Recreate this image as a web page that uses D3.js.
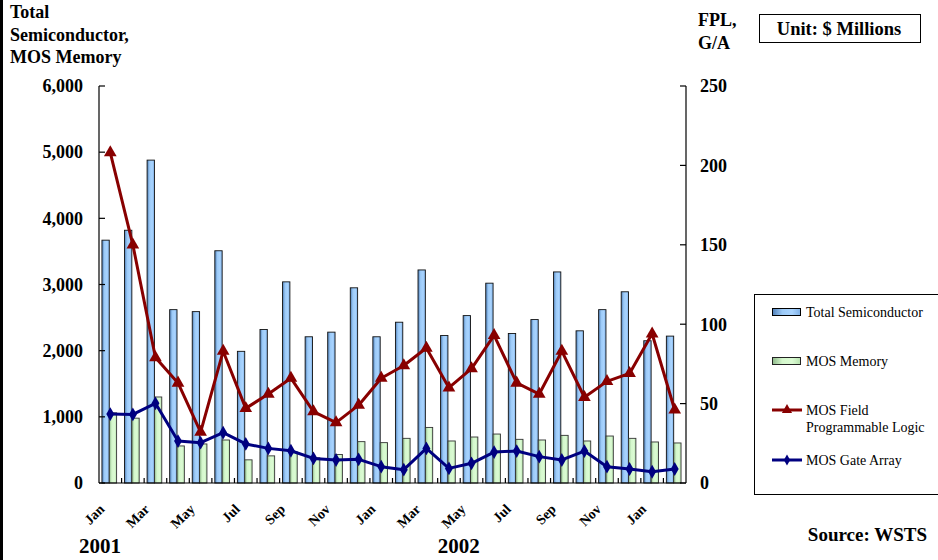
<!DOCTYPE html>
<html>
<head>
<meta charset="utf-8">
<script src="https://cdn.jsdelivr.net/npm/d3@7"></script>
<style>
  body { margin: 0; background: #fff; }
  svg { display: block; font-family: "Liberation Serif", "Times New Roman", serif; }
  .bold { font-weight: bold; }
</style>
</head>
<body>
<svg id="chart" width="938" height="560"></svg>
<script>
// ---> Data (Jan 2001 .. Feb 2003, $ millions)
const months = [
  "Jan 2001", "Feb 2001", "Mar 2001", "Apr 2001", "May 2001", "Jun 2001",
  "Jul 2001", "Aug 2001", "Sep 2001", "Oct 2001", "Nov 2001", "Dec 2001",
  "Jan 2002", "Feb 2002", "Mar 2002", "Apr 2002", "May 2002", "Jun 2002",
  "Jul 2002", "Aug 2002", "Sep 2002", "Oct 2002", "Nov 2002", "Dec 2002",
  "Jan 2003", "Feb 2003"
];
const totalSemi = [3670, 3820, 4880, 2620, 2590, 3510, 1990, 2320, 3040, 2210, 2280, 2950,
  2210, 2430, 3220, 2230, 2530, 3020, 2260, 2470, 3190, 2300, 2620, 2890, 2150, 2220];
const mosMemory = [1060, 980, 1300, 560, 590, 650, 350, 410, 470, 380, 430, 625,
  610, 675, 840, 635, 695, 740, 660, 650, 720, 635, 710, 675, 620, 605];
const mosFPL = [208, 150, 79, 63, 32, 83, 47, 56, 66, 45, 38, 49,
  66, 74, 85, 60, 72, 93, 63, 56, 83, 54, 64, 69, 94, 46];
const mosGateArray = [43.4, 43.2, 50.2, 26.4, 25.4, 31.7, 24.6, 21.8, 20.3, 15.5, 14.5, 14.9,
  10.3, 8.4, 21.8, 9.2, 12.4, 19.5, 20.1, 16.6, 14.5, 20.1, 10.3, 8.8, 7.1, 8.8];
const monthTicks = ["Jan", "Mar", "May", "Jul", "Sep", "Nov", "Jan", "Mar", "May", "Jul", "Sep", "Nov", "Jan"];
const leftTicks = [0, 1000, 2000, 3000, 4000, 5000, 6000];
const rightTicks = [0, 50, 100, 150, 200, 250];
const years = [{label: "2001", month: "Jan 2001"}, {label: "2002", month: "Apr 2002"}];
const legendItems = [
  {name: ["Total Semiconductor"], kind: "bar", fill: "url(#gradBlue)", stroke: "#000"},
  {name: ["MOS Memory"], kind: "bar", fill: "url(#gradGreen)", stroke: "#222"},
  {name: ["MOS Field", "Programmable Logic"], kind: "line", color: "#880000", marker: "triangle"},
  {name: ["MOS Gate Array"], kind: "line", color: "#000080", marker: "diamond"}
];

// ---> Layout
const svg = d3.select("#chart");
const plot = {left: 99, right: 686, top: 86, bottom: 483};

const x = d3.scaleBand().domain(months).range([plot.left, plot.right]).paddingInner(0).paddingOuter(0);
const bw = x.bandwidth();
const xSeries = d3.scaleBand().domain(["total", "mem"]).range([bw * 0.13, bw * 0.78]);
const yLeft = d3.scaleLinear().domain([0, 6000]).range([plot.bottom, plot.top]);
const yRight = d3.scaleLinear().domain([0, 250]).range([plot.bottom, plot.top]);
const cx = (m) => x(m) + bw / 2;

// gradients
const defs = svg.append("defs");
function gradient(id, stops) {
  const g = defs.append("linearGradient").attr("id", id).attr("x1", "0").attr("x2", "1").attr("y1", "0").attr("y2", "0");
  stops.forEach(s => g.append("stop").attr("offset", s[0]).attr("stop-color", s[1]));
}
gradient("gradBlue", [["0", "#4f7fb8"], ["0.35", "#9ccaf7"], ["0.7", "#a9d4ff"], ["1", "#7fb0e6"]]);
gradient("gradGreen", [["0", "#8fb98a"], ["0.35", "#d4f7cc"], ["0.7", "#dbfbd3"], ["1", "#b8e3b0"]]);

// left border stripe
svg.append("rect").attr("x", 0).attr("y", 0).attr("width", 3).attr("height", 560).attr("fill", "#000");

// bars
svg.append("g").selectAll("rect")
  .data(months)
  .enter()
  .append("rect")
  .attr("x", (d) => x(d) + xSeries("total"))
  .attr("y", (d, i) => yLeft(totalSemi[i]))
  .attr("width", xSeries.bandwidth())
  .attr("height", (d, i) => plot.bottom - yLeft(totalSemi[i]))
  .attr("fill", "url(#gradBlue)")
  .attr("stroke", "#111")
  .attr("stroke-width", 0.9);

svg.append("g").selectAll("rect")
  .data(months)
  .enter()
  .append("rect")
  .attr("x", (d) => x(d) + xSeries("mem"))
  .attr("y", (d, i) => yLeft(mosMemory[i]))
  .attr("width", xSeries.bandwidth())
  .attr("height", (d, i) => plot.bottom - yLeft(mosMemory[i]))
  .attr("fill", "url(#gradGreen)")
  .attr("stroke", "#333")
  .attr("stroke-width", 0.9);

// axes lines + ticks
const axes = svg.append("g").attr("stroke", "#000").attr("stroke-width", 1.2);
axes.append("line").attr("x1", plot.left).attr("x2", plot.left).attr("y1", plot.top).attr("y2", plot.bottom);
axes.append("line").attr("x1", plot.right).attr("x2", plot.right).attr("y1", plot.top).attr("y2", plot.bottom);
axes.append("line").attr("x1", plot.left).attr("x2", plot.right).attr("y1", plot.bottom).attr("y2", plot.bottom);
axes.selectAll(".lt").data(leftTicks).enter().append("line")
  .attr("x1", plot.left).attr("x2", plot.left + 6)
  .attr("y1", (d) => yLeft(d)).attr("y2", (d) => yLeft(d));
axes.selectAll(".rt").data(rightTicks).enter().append("line")
  .attr("x1", plot.right - 6).attr("x2", plot.right)
  .attr("y1", (d) => yRight(d)).attr("y2", (d) => yRight(d));
axes.selectAll(".bt").data(months.slice(1)).enter().append("line")
  .attr("x1", (d) => x(d)).attr("x2", (d) => x(d))
  .attr("y1", plot.bottom - 5).attr("y2", plot.bottom);

// tick labels
svg.append("g").attr("class", "bold").attr("font-size", 18).attr("text-anchor", "end")
  .selectAll("text").data(leftTicks).enter().append("text")
  .attr("x", 83).attr("y", (d) => yLeft(d)).attr("dy", "0.35em")
  .text((d) => d3.format(",")(d));
svg.append("g").attr("class", "bold").attr("font-size", 18).attr("text-anchor", "start")
  .selectAll("text").data(rightTicks).enter().append("text")
  .attr("x", 700).attr("y", (d) => yRight(d)).attr("dy", "0.35em")
  .text((d) => d);

const tickMonths = months.filter((d, i) => i % 2 === 0);
svg.append("g").attr("class", "bold").attr("font-size", 14).attr("text-anchor", "end")
  .selectAll("text").data(tickMonths).enter().append("text")
  .attr("transform", (d) => "translate(" + (cx(d) - 5) + ",510) rotate(-45)")
  .text((d, i) => monthTicks[i]);

svg.append("g").attr("class", "bold").attr("font-size", 21)
  .selectAll("text").data(years).enter().append("text")
  .attr("x", (d, i) => x(d.month) + (i === 0 ? -20 : 0)).attr("y", 553)
  .text((d) => d.label);

// lines
const triangle = d3.symbol().type(d3.symbolTriangle).size(70);
const diamond = d3.symbol().type(d3.symbolDiamond).size(55);

function drawLine(values, color, scale, sym) {
  const line = d3.line().x((d, i) => cx(months[i])).y((d) => scale(d));
  svg.append("path").datum(values)
    .attr("d", line).attr("fill", "none")
    .attr("stroke", color).attr("stroke-width", 3).attr("stroke-linejoin", "round");
  svg.append("g").selectAll("path").data(values).enter().append("path")
    .attr("d", sym)
    .attr("transform", (d, i) => "translate(" + cx(months[i]) + "," + scale(d) + ")")
    .attr("fill", color);
}
drawLine(mosFPL, "#880000", yRight, triangle);
drawLine(mosGateArray, "#000080", yRight, diamond);

// titles
const titleLeft = svg.append("text").attr("class", "bold").attr("font-size", 18).attr("x", 10);
["Total", "Semiconductor,", "MOS Memory"].forEach((t, i) => titleLeft.append("tspan").attr("x", 10).attr("y", 18 + i * 22.5).text(t));
const titleRight = svg.append("text").attr("class", "bold").attr("font-size", 18);
["FPL,", "G/A"].forEach((t, i) => titleRight.append("tspan").attr("x", 698).attr("y", 26 + i * 22.5).text(t));

svg.append("rect").attr("x", 759.5).attr("y", 14.5).attr("width", 161).attr("height", 28)
  .attr("fill", "#fff").attr("stroke", "#000").attr("stroke-width", 1);
svg.append("text").attr("class", "bold").attr("font-size", 18.5).attr("text-anchor", "middle")
  .attr("x", 839).attr("y", 35).text("Unit: $ Millions");

svg.append("text").attr("class", "bold").attr("font-size", 19).attr("text-anchor", "end")
  .attr("x", 927).attr("y", 541).text("Source: WSTS");

// legend
svg.append("rect").attr("x", 754.5).attr("y", 294.5).attr("width", 200).attr("height", 200)
  .attr("fill", "#fff").attr("stroke", "#000").attr("stroke-width", 1);
const legendY = [312, 361, 410, 460];
const legend = svg.append("g").selectAll("g").data(legendItems).enter().append("g")
  .attr("transform", (d, i) => "translate(772," + legendY[i] + ")");
legend.each(function (d) {
  const g = d3.select(this);
  if (d.kind === "bar") {
    g.append("rect").attr("x", 0.5).attr("y", -3.5).attr("width", 28).attr("height", 7)
      .attr("fill", d.fill).attr("stroke", d.stroke).attr("stroke-width", 1);
  } else {
    g.append("line").attr("x1", 0).attr("x2", 30).attr("y1", 0).attr("y2", 0)
      .attr("stroke", d.color).attr("stroke-width", 3);
    g.append("path").attr("d", d.marker === "triangle" ? d3.symbol().type(d3.symbolTriangle).size(45)() : d3.symbol().type(d3.symbolDiamond).size(35)())
      .attr("transform", "translate(15,0)").attr("fill", d.color);
  }
  const t = g.append("text").attr("font-size", 14);
  d.name.forEach((n, i) => t.append("tspan").attr("x", 34).attr("y", 5 + i * 17).text(n));
});
</script>
</body>
</html>
